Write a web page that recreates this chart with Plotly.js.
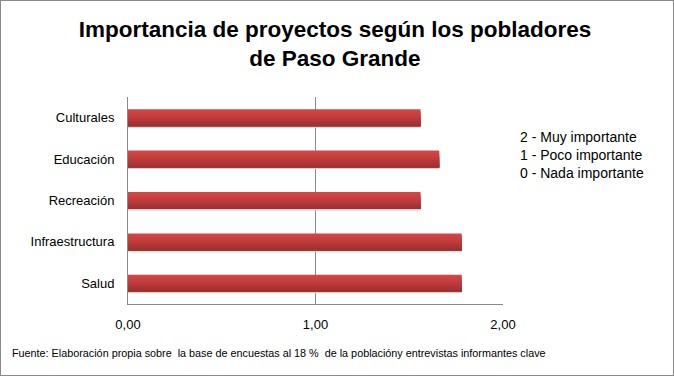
<!DOCTYPE html>
<html><head><meta charset="utf-8">
<script src="https://cdn.plot.ly/plotly-3.0.1.min.js"></script>
<style>
html,body{margin:0;padding:0;background:#fff;}
#wrap{width:672px;height:374px;border:1px solid #8a8a8a;position:relative;overflow:hidden;}
#chart{width:672px;height:374px;}
</style></head>
<body><div id="wrap"><div id="chart"></div></div>
<script>
const categories = ["Salud", "Infraestructura", "Recreación", "Educación", "Culturales"];
const values = [1.78, 1.78, 1.56, 1.66, 1.56];
const tickVals = [0, 1, 2];
const tickLabels = ["0,00", "1,00", "2,00"];
const legendLines = ["2 - Muy importante", "1 - Poco importante", "0 - Nada importante"];
const titleText = "Importancia de proyectos según los pobladores<br>de Paso Grande";
const sourceText = "Fuente: Elaboración propia sobre  la base de encuestas al 18 %  de la poblacióny entrevistas informantes clave";

const font = "Liberation Sans, Arial, sans-serif";
const barWidth = 0.41;
// gradient bands, top to bottom
const bandColors = ['#d24646', '#cc4242', '#c63e3e', '#bf3b3b', '#b53737', '#aa3333', '#a13030'];
const traces = [];
// shadow
traces.push({type:'bar', orientation:'h', y:categories, x:values, width:barWidth,
  offset:-barWidth/2 - 0.035, marker:{color:'#d2d2d2', line:{width:0}}, hoverinfo:'none'});
const bh = barWidth / bandColors.length;
bandColors.forEach((c, i) => {
  const h = barWidth - i*bh;   // each band reaches down to the bar bottom, no gaps
  traces.push({type:'bar', orientation:'h', y:categories, x:values,
    width: h, offset: -barWidth/2,
    marker:{color:c, line:{width:0}}, hoverinfo:'none'});
});
const layout = {
  width:672, height:374,
  margin:{l:127, r:170, t:96, b:71},
  paper_bgcolor:'#fff', plot_bgcolor:'#fff',
  barmode:'overlay', showlegend:false,
  title:{text:titleText, x:0.497, xanchor:'center', y:0.905, yanchor:'middle',
         font:{family:font, size:22.5, color:'#000', weight:'bold'}},
  xaxis:{range:[0,2], tickvals:tickVals, ticktext:tickLabels, showgrid:true,
         gridcolor:'#8a8a8a', gridwidth:1, zeroline:false, showline:true, linecolor:'#8a8a8a',
         ticks:'', tickfont:{family:font, size:13, color:'#000'}, ticklabelstandoff:8, fixedrange:true},
  yaxis:{type:'category', range:[-0.5,4.5], showgrid:false, zeroline:false, showline:true,
         linecolor:'#8a8a8a', ticks:'', tickfont:{family:font, size:13, color:'#000'},
         ticklabelstandoff:10, fixedrange:true},
  annotations:[
    {xref:'paper', yref:'paper', x:1.04, y:0.72, xanchor:'left', yanchor:'middle', align:'left',
     text:legendLines.join('<br>'), showarrow:false, font:{family:font, size:14, color:'#000'}},
    {xref:'paper', yref:'paper', x:-0.315, y:-0.235, xanchor:'left', yanchor:'middle',
     text:sourceText, showarrow:false, font:{family:font, size:10.8, color:'#000'}}
  ]
};
Plotly.newPlot('chart', traces, layout, {displayModeBar:false, staticPlot:true});
</script></body></html>
